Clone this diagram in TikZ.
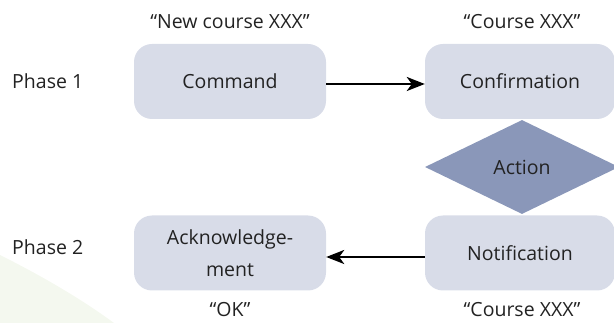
\documentclass[tikz,border=0pt]{standalone}
\usepackage{fontspec}
\setmainfont{Open Sans}
\usetikzlibrary{shapes.geometric,arrows.meta}
\definecolor{boxfill}{HTML}{D8DCE8}
\definecolor{actfill}{HTML}{8A97B9}
\definecolor{leaf}{HTML}{F4F8EF}
\definecolor{ink}{HTML}{222222}
\tikzset{
  txt/.style={font=\fontsize{19.5}{32}\selectfont, text=ink},
  stepbox/.style={txt, fill=boxfill, rounded corners=18pt, minimum width=192pt, minimum height=75pt,
    inner sep=0pt, align=center},
  label/.style={txt, inner sep=0pt},
  flow/.style={line width=2.4pt, -{Stealth[length=18pt,width=14pt,inset=5pt]}}
}
\begin{document}
\begin{tikzpicture}[x=1pt,y=-1pt]
\useasboundingbox (0,0) rectangle (614,323);
\begin{scope}
\clip (0,0) rectangle (614,323);
% soft background shape in the lower left corner
\fill[leaf] (0,255) .. controls (40,275) and (80,298) .. (114,323) -- (0,323) -- cycle;
% boxes
\node[stepbox] (cmd) at (230,81.5) {Command};
\node[stepbox, minimum width=190pt] (conf) at (520,81.5) {Confirmation};
\node[stepbox] (ack) at (230,253) {Acknowledge-\\ment};
\node[stepbox, minimum width=190pt] (note) at (520,253) {Notification};
\node[diamond, txt, fill=actfill, minimum width=194pt, minimum height=94pt, inner sep=0pt] (act) at (522,167) {Action};
\end{scope}
% row labels
\node[label, anchor=west] (p1) at (12,81) {Phase 1};
\node[label, anchor=west] (p2) at (12,247) {Phase 2};
% quoted messages
\node[label] (q1) at (230,22) {“New course XXX”};
\node[label] (q2) at (522,22) {“Course XXX”};
\node[label] (q3) at (230,310) {“OK”};
\node[label] (q4) at (522,310) {“Course XXX”};
% message flow
\draw[flow] (cmd.east |- 0,84) -- (conf.west |- 0,84);
\draw[flow] (note.west |- 0,257) -- (ack.east |- 0,257);
\end{tikzpicture}
\end{document}
